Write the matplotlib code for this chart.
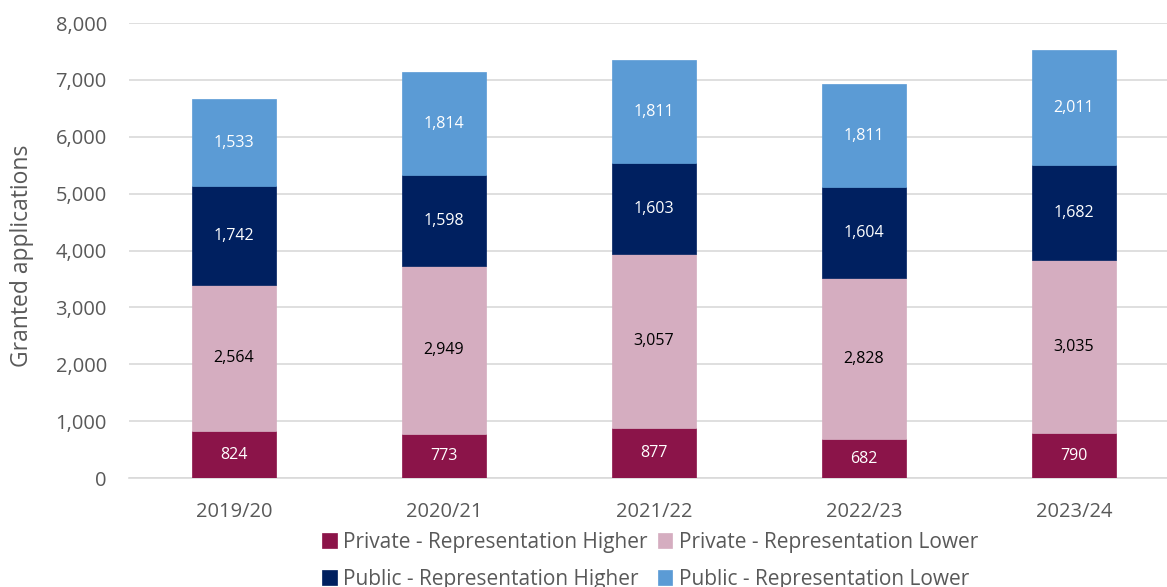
import matplotlib
matplotlib.use("Agg")
import matplotlib.pyplot as plt
import numpy as np

plt.rcParams['font.family'] = ['Open Sans', 'DejaVu Sans']

years = ["2019/20", "2020/21", "2021/22", "2022/23", "2023/24"]
private_higher = [824, 773, 877, 682, 790]
private_lower = [2564, 2949, 3057, 2828, 3035]
public_higher = [1742, 1598, 1603, 1604, 1682]
public_lower = [1533, 1814, 1811, 1811, 2011]

series = [
    ("Private - Representation Higher", private_higher, "#8B1449", "white"),
    ("Private - Representation Lower", private_lower, "#D5ADC0", "black"),
    ("Public - Representation Higher", public_higher, "#002060", "white"),
    ("Public - Representation Lower", public_lower, "#5B9BD5", "white"),
]

fig = plt.figure(figsize=(11.67, 5.87), dpi=100)
ax = fig.add_axes([129/1167, 109/587, 1050/1167, 455/587])

x = np.arange(len(years))
bottom = np.zeros(len(years))
handles = {}
for name, vals, color, tcolor in series:
    vals = np.array(vals, dtype=float)
    bars = ax.bar(x, vals, width=0.4, bottom=bottom, color=color, label=name,
                  edgecolor=color, linewidth=0.5, zorder=3)
    handles[name] = bars
    for xi, b, v in zip(x, bottom, vals):
        ax.text(xi, b + v / 2, f"{int(v):,}", ha='center', va='center',
                color=tcolor, fontsize=11.5, zorder=4)
    bottom += vals

ax.set_xlim(-0.5, len(years) - 0.5)
ax.set_ylim(0, 8000)
ax.set_yticks(np.arange(0, 8001, 1000))
ax.set_yticklabels([f"{v:,}" for v in range(0, 8001, 1000)])
ax.set_xticks(x)
ax.set_xticklabels(years)
ax.grid(axis='y', color='#D9D9D9', linewidth=1.2, zorder=0)
for s in ['top', 'right', 'left']:
    ax.spines[s].set_visible(False)
ax.spines['bottom'].set_color('#D9D9D9')
ax.spines['bottom'].set_linewidth(1.2)
ax.tick_params(axis='both', length=0, colors='#595959', labelsize=14.5)
ax.tick_params(axis='y', pad=16)
ax.tick_params(axis='x', pad=17)
fig.text(22/1167, 1 - 256/587, "Granted applications", rotation=90,
         ha='center', va='center', fontsize=16.5, color='#595959')

order = ["Private - Representation Higher", "Public - Representation Higher",
         "Private - Representation Lower", "Public - Representation Lower"]
leg = fig.legend([handles[n] for n in order], order, ncol=2,
                 loc='upper center', bbox_to_anchor=(650/1167, 1 - 532/587),
                 frameon=False, fontsize=15, handlelength=0.7, handleheight=0.7,
                 handletextpad=0.3, columnspacing=0.5, labelspacing=0.75,
                 borderaxespad=0, borderpad=0)
for t in leg.get_texts():
    t.set_color('#595959')

fig.savefig("out.png", dpi=100)
